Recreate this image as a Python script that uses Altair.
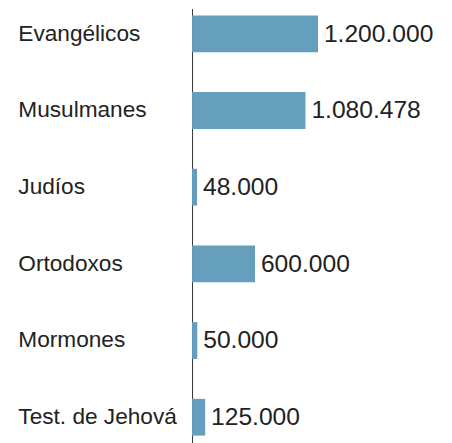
import altair as alt
import pandas as pd

categories = ["Evangélicos", "Musulmanes", "Judíos", "Ortodoxos", "Mormones", "Test. de Jehová"]
values = [1200000, 1080478, 48000, 600000, 50000, 125000]

df = pd.DataFrame({
    "grupo": categories,
    "fieles": values,
    "etiqueta": [f"{v:,}".replace(",", ".") for v in values],
})

FONT = "Liberation Sans"

y = alt.Y(
    "grupo:N",
    sort=categories,
    scale=alt.Scale(paddingInner=0.52, paddingOuter=0.09),
    axis=alt.Axis(
        title=None,
        ticks=False,
        domain=True,
        domainColor="#333333",
        domainWidth=1,
        labelAlign="left",
        labelPadding=177,
        labelFont=FONT,
        labelFontSize=23,
        labelColor="#222222",
        labelLimit=0,
        grid=False,
    ),
)
x = alt.X(
    "fieles:Q",
    scale=alt.Scale(domain=[0, 2400000], nice=False),
    axis=None,
)

bars = alt.Chart(df).mark_bar(color="#669fbd").encode(x=x, y=y)
text = alt.Chart(df).mark_text(
    align="left", baseline="middle", dx=6, font=FONT, fontSize=25, color="#222222"
).encode(x=x, y=y, text="etiqueta:N")

chart = (bars + text).properties(
    width=256,
    height=441,
    padding={"left": 10, "top": -3, "right": 0, "bottom": 0},
).configure_view(stroke=None)

chart.save("out.html", embed_options={"renderer": "svg", "actions": False})
